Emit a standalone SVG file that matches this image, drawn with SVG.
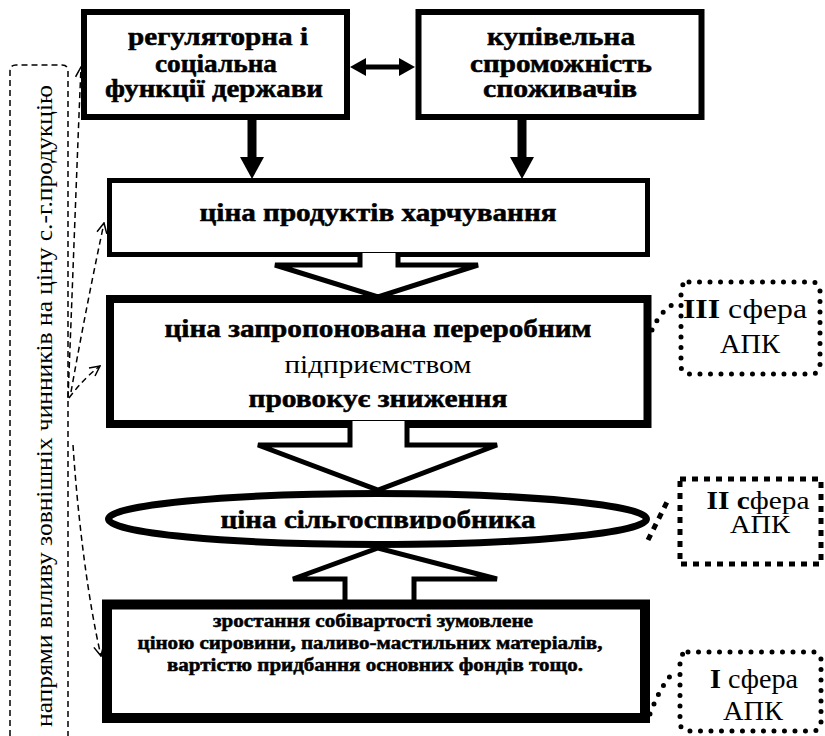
<svg xmlns="http://www.w3.org/2000/svg" width="825" height="736" viewBox="0 0 825 736">
<style>
.box{fill:#fff;stroke:#000}
.b{font-family:"Liberation Serif","Times New Roman",serif;font-weight:bold;fill:#000;stroke:#000;stroke-width:0.5;text-anchor:middle}
.r{font-family:"Liberation Serif","Times New Roman",serif;font-weight:normal;fill:#000;text-anchor:middle}
.blk{fill:#fff;stroke:#000;stroke-width:5;stroke-linejoin:miter}
.dash{fill:none;stroke:#000;stroke-width:1.5;stroke-dasharray:6 4}
.rdot{fill:none;stroke:#000;stroke-width:5;stroke-dasharray:0 10.5;stroke-linecap:round}
.sdot{fill:none;stroke:#000;stroke-width:5;stroke-dasharray:6 6}
</style>
<defs>
<marker id="open" viewBox="0 0 12 12" refX="11" refY="6" markerWidth="12" markerHeight="12" markerUnits="userSpaceOnUse" orient="auto">
<path d="M1,1 L11,6 L1,11" fill="none" stroke="#000" stroke-width="1.5"/>
</marker>
<clipPath id="ecl"><rect x="100" y="480" width="560" height="49"/></clipPath>
</defs>

<g id="outer-factors">
<path d="M10,736 V71 Q10,65 16,65 H62 Q68,65 68,71 V736" class="dash"/>
<text class="r" font-size="24" textLength="642" lengthAdjust="spacingAndGlyphs" transform="translate(52,406) rotate(-90)">напрями впливу зовнішніх чинників на ціну с.-г.продукцію</text>
</g>

<g id="connectors">
<line x1="356" y1="67" x2="409" y2="67" stroke="#000" stroke-width="5"/>
<path d="M350,67 L366,58 L366,76 Z"/>
<path d="M415,67 L399,58 L399,76 Z"/>
<line x1="252" y1="119" x2="252" y2="158" stroke="#000" stroke-width="9"/>
<path d="M240,157 L264,157 L252,179 Z"/>
<line x1="522" y1="119" x2="522" y2="158" stroke="#000" stroke-width="9"/>
<path d="M510,157 L534,157 L522,179 Z"/>
<path class="dash" d="M68,398 C72,300 77,160 81,67" marker-end="url(#open)"/>
<path class="dash" d="M71,392 C82,330 94,270 104,223" marker-end="url(#open)"/>
<path class="dash" d="M69,398 Q84,378 100,366" marker-end="url(#open)"/>
<path class="dash" d="M73,445 C78,520 88,600 101,656" marker-end="url(#open)"/>
<path class="rdot" d="M652,330 Q660,312 672,305"/>
<path class="sdot" d="M648,540 L668,500"/>
<path class="rdot" d="M650,714 Q662,682 676,670"/>
</g>

<g id="n1">
<rect class="box" x="84" y="12" width="263" height="105" stroke-width="6"/>
<text class="b" font-size="25" x="218" y="45" textLength="180" lengthAdjust="spacingAndGlyphs">регуляторна і</text>
<text class="b" font-size="25" x="216" y="72" textLength="122" lengthAdjust="spacingAndGlyphs">соціальна</text>
<text class="b" font-size="25" x="214" y="97" textLength="218" lengthAdjust="spacingAndGlyphs">функції держави</text>
</g>

<g id="n2">
<rect class="box" x="418.5" y="12" width="283" height="105" stroke-width="6"/>
<text class="b" font-size="25" x="561" y="45" textLength="148" lengthAdjust="spacingAndGlyphs">купівельна</text>
<text class="b" font-size="25" x="561" y="72" textLength="182" lengthAdjust="spacingAndGlyphs">спроможність</text>
<text class="b" font-size="25" x="560" y="97" textLength="154" lengthAdjust="spacingAndGlyphs">споживачів</text>
</g>

<g id="n3">
<rect class="box" x="109.5" y="180.5" width="538" height="74" stroke-width="5"/>
<text class="b" font-size="25" x="378" y="221" textLength="357" lengthAdjust="spacingAndGlyphs">ціна продуктів харчування</text>
</g>

<g id="a34">
<path class="blk" d="M360,253 V265 H275 L378,297 L478,265 H398 V253"/>
</g>

<g id="n4">
<rect class="box" x="110" y="299" width="537.5" height="125" stroke-width="8"/>
<text class="b" font-size="25" x="378" y="337" textLength="427" lengthAdjust="spacingAndGlyphs">ціна запропонована переробним</text>
<text class="r" font-size="25" x="378" y="373" textLength="187" lengthAdjust="spacingAndGlyphs">підприємством</text>
<text class="b" font-size="25" x="378" y="407" textLength="259" lengthAdjust="spacingAndGlyphs">провокує зниження</text>
</g>

<g id="a45">
<path class="blk" d="M350,421 V445 H258 L378,490 L497,445 H407 V421"/>
</g>

<g id="a56">
<path class="blk" d="M345,608 V579 H293 L378,548 L497,579 H414 V608"/>
</g>

<g id="n5">
<ellipse class="box" cx="377.5" cy="519" rx="269" ry="25.5" stroke-width="7"/>
<text class="b" font-size="25" x="378" y="528" textLength="315" lengthAdjust="spacingAndGlyphs" clip-path="url(#ecl)">ціна сільгоспвиробника</text>
</g>

<g id="n6">
<rect class="box" x="107" y="604.5" width="538" height="113.5" stroke-width="10"/>
<text class="b" font-size="18" x="373" y="627" textLength="320" lengthAdjust="spacingAndGlyphs">зростання собівартості зумовлене</text>
<text class="b" font-size="18" x="370" y="649" textLength="465" lengthAdjust="spacingAndGlyphs">ціною сировини, паливо-мастильних матеріалів,</text>
<text class="b" font-size="18" x="375" y="671" textLength="416" lengthAdjust="spacingAndGlyphs">вартістю придбання основних фондів тощо.</text>
</g>

<g id="s3">
<rect class="rdot" x="681" y="282" width="139" height="92" rx="8"/>
<text class="r" font-size="27" x="745" y="318" textLength="124" lengthAdjust="spacingAndGlyphs"><tspan font-weight="bold">III</tspan> сфера</text>
<text class="r" font-size="27" x="750" y="353" textLength="60" lengthAdjust="spacingAndGlyphs">АПК</text>
</g>

<g id="s2">
<rect class="sdot" x="680" y="479" width="141" height="85"/>
<text class="r" font-size="25" x="758" y="509" textLength="103" lengthAdjust="spacingAndGlyphs"><tspan font-weight="bold">II с</tspan>фера</text>
<text class="r" font-size="25" x="760" y="533" textLength="60" lengthAdjust="spacingAndGlyphs">АПК</text>
</g>

<g id="s1">
<rect class="rdot" x="680" y="652" width="141" height="79" rx="8"/>
<text class="r" font-size="27" x="754" y="688" textLength="88" lengthAdjust="spacingAndGlyphs"><tspan font-weight="bold">I</tspan> сфера</text>
<text class="r" font-size="27" x="753" y="720" textLength="60" lengthAdjust="spacingAndGlyphs">АПК</text>
</g>
</svg>
